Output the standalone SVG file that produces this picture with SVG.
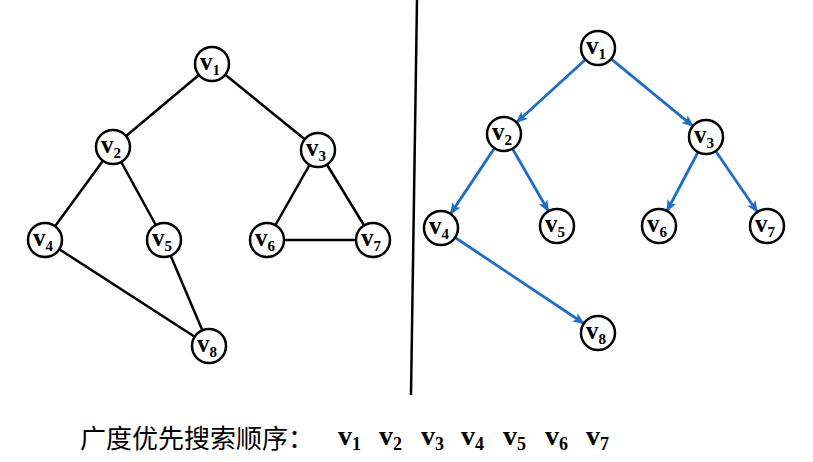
<svg xmlns="http://www.w3.org/2000/svg" width="813" height="462" viewBox="0 0 813 462">
<style>
.n{fill:#fff;stroke:#000;stroke-width:2.5}
.e{stroke:#000;stroke-width:2.5}
.b{stroke:#1e6ec8;stroke-width:2.8;marker-end:url(#ah)}
.t{font-family:"Liberation Serif",serif;font-weight:bold;font-size:25px;fill:#000}
.s{font-size:15px}
.seq{font-family:"Liberation Serif",serif;font-weight:bold;font-size:28px}
</style>
<defs>
<marker id="ah" viewBox="0 0 12 10" refX="11" refY="5" markerWidth="12" markerHeight="10" markerUnits="userSpaceOnUse" orient="auto">
<path d="M0,0 L12,5 L0,10 L3,5 z" fill="#1e6ec8"/>
</marker>
</defs>
<line x1="417" y1="0" x2="411" y2="395" stroke="#000" stroke-width="2.5"/>
<g id="connectors">
<line class="e" x1="212" y1="64" x2="113" y2="147"/>
<line class="e" x1="212" y1="64" x2="318" y2="150"/>
<line class="e" x1="113" y1="147" x2="45" y2="240"/>
<line class="e" x1="113" y1="147" x2="164" y2="240"/>
<line class="e" x1="318" y1="150" x2="267" y2="240"/>
<line class="e" x1="318" y1="150" x2="373" y2="240"/>
<line class="e" x1="267" y1="240" x2="373" y2="240"/>
<line class="e" x1="45" y1="240" x2="209" y2="346"/>
<line class="e" x1="164" y1="240" x2="209" y2="346"/>
<line class="b" x1="585.5" y1="59.5" x2="516.5" y2="122.5"/>
<line class="b" x1="611.1" y1="58.8" x2="692.9" y2="126.2"/>
<line class="b" x1="494.5" y1="148.1" x2="450.5" y2="213.9"/>
<line class="b" x1="512.5" y1="148.7" x2="548.5" y2="211.3"/>
<line class="b" x1="698.1" y1="152" x2="666.9" y2="211"/>
<line class="b" x1="715.6" y1="151" x2="757.4" y2="212"/>
<line class="b" x1="455.1" y1="237.5" x2="583.9" y2="323.5"/>
</g>
<g id="L1"><circle class="n" cx="212" cy="64" r="17"/><text class="t" x="200" y="70">v<tspan class="s" dy="5">1</tspan></text></g>
<g id="L2"><circle class="n" cx="113" cy="147" r="17"/><text class="t" x="101" y="153">v<tspan class="s" dy="5">2</tspan></text></g>
<g id="L3"><circle class="n" cx="318" cy="150" r="17"/><text class="t" x="306" y="156">v<tspan class="s" dy="5">3</tspan></text></g>
<g id="L4"><circle class="n" cx="45" cy="240" r="17"/><text class="t" x="33" y="246">v<tspan class="s" dy="5">4</tspan></text></g>
<g id="L5"><circle class="n" cx="164" cy="240" r="17"/><text class="t" x="152" y="246">v<tspan class="s" dy="5">5</tspan></text></g>
<g id="L6"><circle class="n" cx="267" cy="240" r="17"/><text class="t" x="255" y="246">v<tspan class="s" dy="5">6</tspan></text></g>
<g id="L7"><circle class="n" cx="373" cy="240" r="17"/><text class="t" x="361" y="246">v<tspan class="s" dy="5">7</tspan></text></g>
<g id="L8"><circle class="n" cx="209" cy="346" r="17"/><text class="t" x="197" y="352">v<tspan class="s" dy="5">8</tspan></text></g>
<g id="R1"><circle class="n" cx="598" cy="48" r="17"/><text class="t" x="586" y="54">v<tspan class="s" dy="5">1</tspan></text></g>
<g id="R2"><circle class="n" cx="504" cy="134" r="17"/><text class="t" x="492" y="140">v<tspan class="s" dy="5">2</tspan></text></g>
<g id="R3"><circle class="n" cx="706" cy="137" r="17"/><text class="t" x="694" y="143">v<tspan class="s" dy="5">3</tspan></text></g>
<g id="R4"><circle class="n" cx="441" cy="228" r="17"/><text class="t" x="429" y="234">v<tspan class="s" dy="5">4</tspan></text></g>
<g id="R5"><circle class="n" cx="557" cy="226" r="17"/><text class="t" x="545" y="232">v<tspan class="s" dy="5">5</tspan></text></g>
<g id="R6"><circle class="n" cx="659" cy="226" r="17"/><text class="t" x="647" y="232">v<tspan class="s" dy="5">6</tspan></text></g>
<g id="R7"><circle class="n" cx="767" cy="226" r="17"/><text class="t" x="755" y="232">v<tspan class="s" dy="5">7</tspan></text></g>
<g id="R8"><circle class="n" cx="598" cy="333" r="17"/><text class="t" x="586" y="339">v<tspan class="s" dy="5">8</tspan></text></g>
<text x="80" y="448" font-family="'Noto Sans CJK SC',sans-serif" font-size="26" fill="#000">广度优先搜索顺序：</text>
<text class="seq" y="445"><tspan x="338">v</tspan><tspan font-size="18" dy="5">1</tspan><tspan x="379" dy="-5">v</tspan><tspan font-size="18" dy="5">2</tspan><tspan x="421" dy="-5">v</tspan><tspan font-size="18" dy="5">3</tspan><tspan x="461" dy="-5">v</tspan><tspan font-size="18" dy="5">4</tspan><tspan x="503" dy="-5">v</tspan><tspan font-size="18" dy="5">5</tspan><tspan x="545" dy="-5">v</tspan><tspan font-size="18" dy="5">6</tspan><tspan x="586" dy="-5">v</tspan><tspan font-size="18" dy="5">7</tspan></text>
</svg>
